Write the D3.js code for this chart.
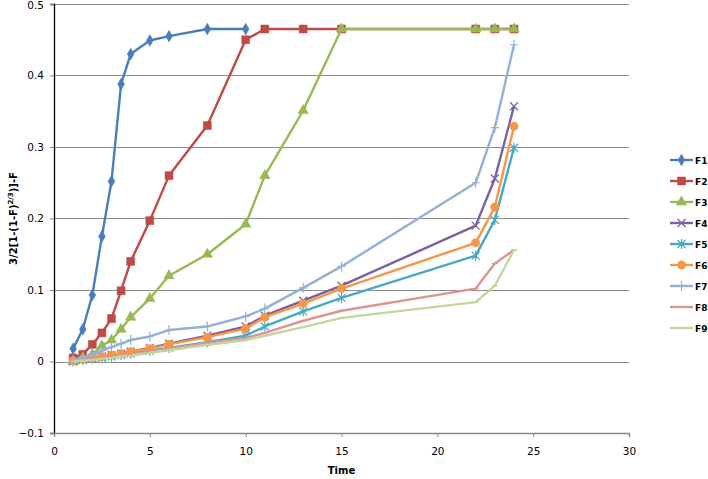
<!doctype html>
<html>
<head>
<meta charset="UTF-8">
<title>Chart</title>
<style>
	body { margin: 0; background: #fff; }
	#container { font-size: 0; }
	text { font-family: "DejaVu Sans", Verdana, sans-serif; }
</style>
</head>
<body>
<div id="container"></div>
<script src="https://cdn.jsdelivr.net/npm/d3@7"></script>
<script>
	var time = [1, 1.5, 2, 2.5, 3, 3.5, 4, 5, 6, 8, 10, 11, 13, 15, 22, 23, 24];
	var F1 = [0.018, 0.045, 0.093, 0.175, 0.252, 0.388, 0.43, 0.449, 0.455, 0.465, 0.465];
	var F2 = [0.005, 0.01, 0.024, 0.04, 0.06, 0.099, 0.14, 0.197, 0.26, 0.33, 0.45, 0.465, 0.465, 0.465, 0.465, 0.465, 0.465];
	var F3 = [0.0, 0.005, 0.01, 0.022, 0.03, 0.045, 0.062, 0.088, 0.12, 0.15, 0.192, 0.26, 0.351, 0.465, 0.465, 0.465, 0.465];
	var F4 = [0.001, 0.003, 0.005, 0.007, 0.009, 0.011, 0.014, 0.019, 0.025, 0.036, 0.049, 0.064, 0.085, 0.106, 0.19, 0.256, 0.357];
	var F5 = [0.0, 0.002, 0.004, 0.005, 0.007, 0.009, 0.011, 0.015, 0.019, 0.027, 0.036, 0.049, 0.07, 0.089, 0.148, 0.198, 0.299];
	var F6 = [0.001, 0.003, 0.005, 0.007, 0.009, 0.011, 0.014, 0.018, 0.024, 0.034, 0.046, 0.062, 0.081, 0.102, 0.166, 0.216, 0.329];
	var F7 = [0.002, 0.005, 0.01, 0.015, 0.02, 0.025, 0.03, 0.035, 0.044, 0.049, 0.063, 0.074, 0.103, 0.133, 0.25, 0.327, 0.443];
	var F8 = [0.0, 0.002, 0.003, 0.005, 0.006, 0.008, 0.01, 0.014, 0.018, 0.026, 0.033, 0.04, 0.057, 0.071, 0.102, 0.137, 0.156];
	var F9 = [0.0, 0.001, 0.002, 0.004, 0.005, 0.007, 0.008, 0.012, 0.016, 0.023, 0.03, 0.036, 0.048, 0.061, 0.083, 0.106, 0.156];

	var names = ["F1", "F2", "F3", "F4", "F5", "F6", "F7", "F8", "F9"];
	var values = [F1, F2, F3, F4, F5, F6, F7, F8, F9];
	var colors = ["#4a7ebb", "#be4b48", "#98b954", "#7d60a0", "#46aac5", "#f79646", "#93b1d8", "#dc9593", "#c3d69b"];
	var markers = ["diamond", "square", "triangle", "x", "star", "circle", "plus", "dash", "dash"];

	var xTicks = [0, 5, 10, 15, 20, 25, 30];
	var yTicks = [-0.1, 0, 0.1, 0.2, 0.3, 0.4, 0.5];

	var w = 708, h = 479;
	var mLeft = 54, mRight = 629, mTop = 4, mBottom = 433;

	var xScale = d3.scaleLinear().domain([0, 30]).range([mLeft, mRight]);
	var yScale = d3.scaleLinear().domain([-0.1, 0.5]).range([mBottom, mTop]);

	var svg = d3.select("#container").append("svg")
		.attr("width", w).attr("height", h);

	// gridlines
	svg.append("g")
		.selectAll("line")
		.data(yTicks.filter(function (d) { return d > -0.1; }))
		.enter().append("line")
		.attr("x1", mLeft).attr("x2", mRight)
		.attr("y1", function (d) { return Math.round(yScale(d)) + 0.5; })
		.attr("y2", function (d) { return Math.round(yScale(d)) + 0.5; })
		.attr("stroke", "#8c8c8c").attr("stroke-width", 1);

	// axes
	var yAxis = d3.axisLeft(yScale).tickValues(yTicks).tickSize(4).tickPadding(6)
		.tickFormat(function (d) { return Math.abs(d) < 1e-9 ? "0" : d3.format(".1f")(d); });
	var gy = svg.append("g").attr("transform", "translate(" + mLeft + ",0)").call(yAxis);
	var xAxis = d3.axisBottom(xScale).tickValues(xTicks).tickSize(4).tickPadding(11).tickFormat(d3.format("d"));
	var gx = svg.append("g").attr("transform", "translate(0," + mBottom + ")").call(xAxis);
	[gx, gy].forEach(function (g) {
		g.select(".domain").attr("stroke", "#868686").attr("stroke-width", 1.3);
		g.selectAll(".tick line").attr("stroke", "#868686");
		g.selectAll("text").attr("font-size", 10.5).attr("fill", "#000")
			.style("font-family", "'DejaVu Sans', Verdana, sans-serif");
	});
	gy.select(".domain").attr("stroke", "#000");
	// keep the top label inside the picture
	gy.selectAll(".tick text").filter(function (d) { return d === 0.5; }).attr("y", 1.5);

	// axis titles
	svg.append("text")
		.attr("x", xScale(15)).attr("y", 474)
		.attr("text-anchor", "middle").attr("font-size", 10).attr("font-weight", "bold")
		.text("Time");
	var yt = svg.append("text")
		.attr("transform", "translate(17," + (mTop + mBottom) / 2 + ") rotate(-90)")
		.attr("text-anchor", "middle").attr("font-size", 10).attr("font-weight", "bold");
	yt.append("tspan").text("3/2[1-(1-F)");
	yt.append("tspan").attr("dy", -4).attr("font-size", 7).text("2/3");
	yt.append("tspan").attr("dy", 4).text(")]-F");

	function markerPath(type) {
		switch (type) {
			case "diamond": return d3.symbol().type(d3.symbolDiamond).size(40)();
			case "square": return d3.symbol().type(d3.symbolSquare).size(64)();
			case "triangle": return d3.symbol().type(d3.symbolTriangle).size(48)();
			case "circle": return d3.symbol().type(d3.symbolCircle).size(56)();
			case "x": return "M-4,-4L4,4M-4,4L4,-4";
			case "star": return "M-4,-4L4,4M-4,4L4,-4M0,-5L0,5";
			case "plus": return "M-4,0L4,0M0,-5L0,5";
			case "dash": return "M-3,0L3,0";
		}
	}
	var filled = { diamond: true, square: true, triangle: true, circle: true };

	var line = d3.line()
		.x(function (d) { return xScale(d[0]); })
		.y(function (d) { return yScale(d[1]); });

	values.forEach(function (vals, i) {
		var pts = vals.map(function (v, j) { return [time[j], v]; });
		var g = svg.append("g");
		g.append("path")
			.attr("d", line(pts))
			.attr("fill", "none")
			.attr("stroke", colors[i])
			.attr("stroke-width", 2.4)
			.attr("stroke-linejoin", "round");
		g.selectAll("path.m")
			.data(pts)
			.enter().append("path")
			.attr("class", "m")
			.attr("transform", function (d) { return "translate(" + xScale(d[0]) + "," + yScale(d[1]) + ")"; })
			.attr("d", markerPath(markers[i]))
			.attr("fill", filled[markers[i]] ? colors[i] : "none")
			.attr("stroke", colors[i])
			.attr("stroke-width", filled[markers[i]] ? 0.5 : 1.2);
	});

	// legend
	var legend = svg.append("g");
	names.forEach(function (n, i) {
		var y = 160 + i * 21;
		var lg = legend.append("g").attr("transform", "translate(0," + y + ")");
		lg.append("line").attr("x1", 670).attr("x2", 693).attr("y1", 0).attr("y2", 0)
			.attr("stroke", colors[i]).attr("stroke-width", 2.4);
		lg.append("path").attr("transform", "translate(681.5,0)")
			.attr("d", markerPath(markers[i]))
			.attr("fill", filled[markers[i]] ? colors[i] : "none")
			.attr("stroke", colors[i])
			.attr("stroke-width", filled[markers[i]] ? 0.5 : 1.2);
		lg.append("text").attr("x", 695).attr("y", 3.5)
			.attr("font-size", 9).attr("font-weight", "bold").text(n);
	});
</script>
</body>
</html>
